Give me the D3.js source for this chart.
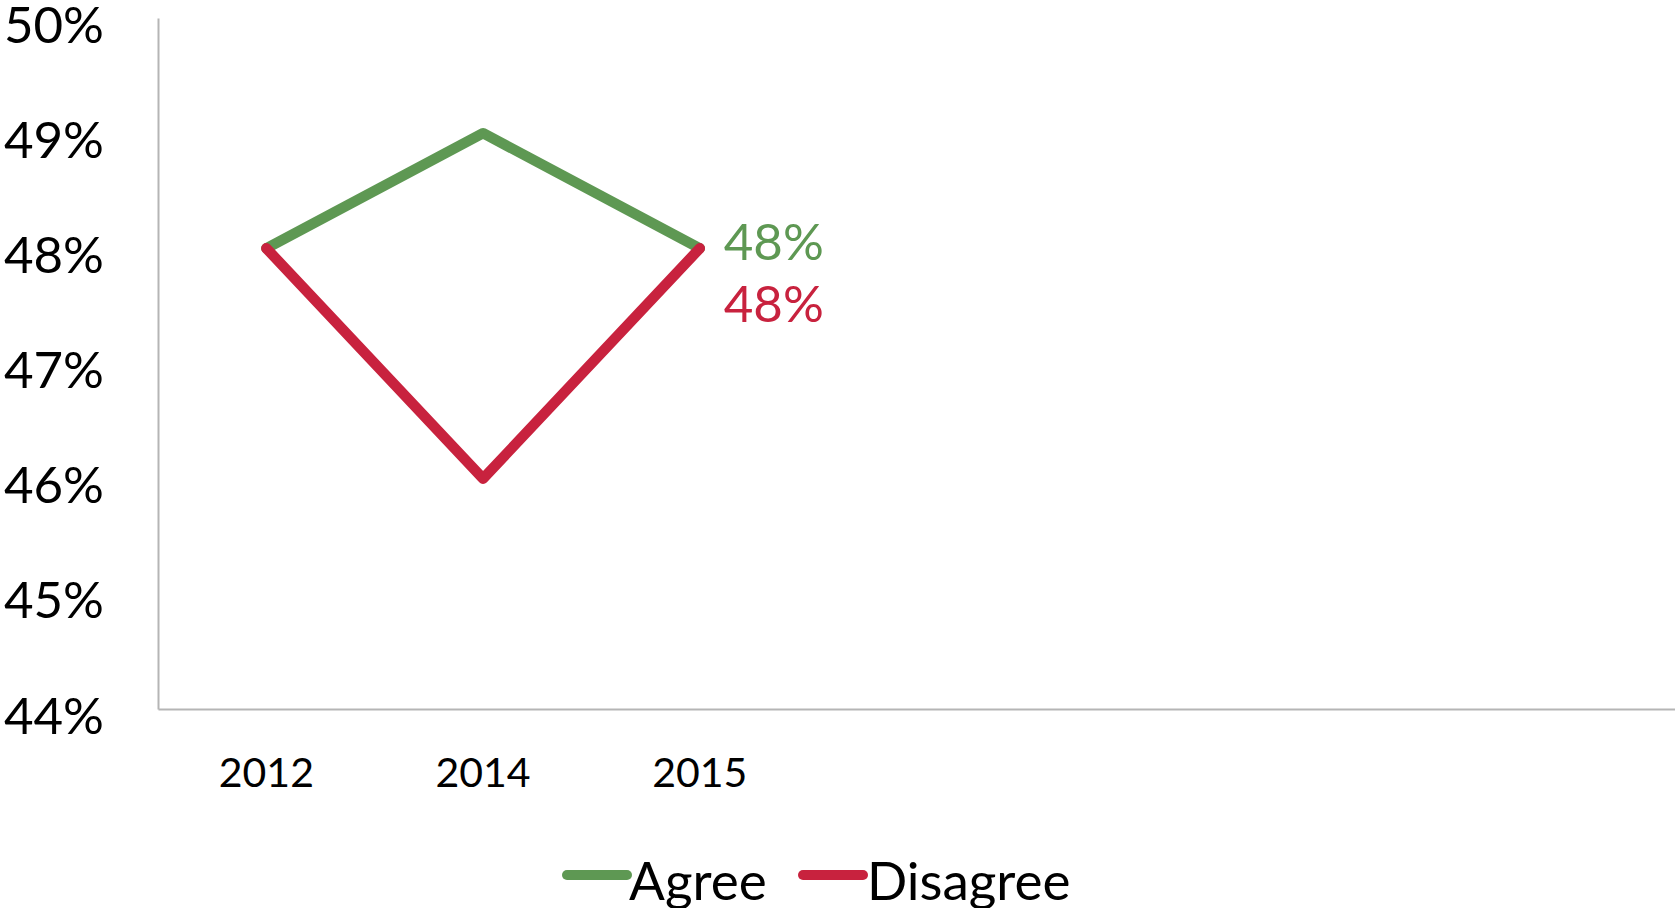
<!DOCTYPE html>
<html>
<head>
<meta charset="utf-8">
<script src="https://cdn.jsdelivr.net/npm/d3@7"></script>
<style>
  body { margin: 0; background: #fff; }
  svg { display: block; font-family: Lato, "Open Sans", sans-serif; }
</style>
</head>
<body>
<svg id="chart" width="1675" height="908"></svg>
<script>
// categories (excel leaves 4 empty slots after 2015)
const categories = ["2012", "2014", "2015", "", "", "", ""];
const agree = [48, 49, 48];
const disagree = [48, 46, 48];
const yTicks = [44, 45, 46, 47, 48, 49, 50];
const seriesNames = ["Agree", "Disagree"];
const seriesColors = ["#5e9853", "#c8223e"];

const svg = d3.select("#chart");
const plotLeft = 158, plotRight = 1675, plotTop = 18, plotBottom = 709;

const x = d3.scaleBand().domain(d3.range(categories.length)).range([plotLeft, plotRight]);
const y = d3.scaleLinear().domain([44, 50]).range([plotBottom, plotTop]);
const cx = i => x(i) + x.bandwidth() / 2;

// axes
const yAxis = svg.append("g").attr("transform", `translate(${plotLeft},0)`)
    .call(d3.axisLeft(y).tickValues(yTicks).tickSize(0).tickPadding(54).tickFormat(d => d + "%"));
yAxis.select(".domain").attr("stroke", "#b5b5b5").attr("stroke-width", 2);
yAxis.selectAll("text").attr("font-size", 51).attr("fill", "#000").attr("dy", "24px")
    .attr("font-family", "Lato, sans-serif");

const xAxis = svg.append("g").attr("transform", `translate(0,${plotBottom})`)
    .call(d3.axisBottom(x).tickSize(0).tickPadding(0).tickFormat(i => categories[i]));
xAxis.select(".domain").attr("stroke", "#b5b5b5").attr("stroke-width", 2);
xAxis.selectAll("text").attr("font-size", 41).attr("fill", "#000").attr("dy", "78px")
    .attr("font-family", "Lato, sans-serif");

// lines
const line = d3.line().x((d, i) => cx(i)).y(d => y(d));
[agree, disagree].forEach((s, k) => {
    svg.append("path").datum(s)
        .attr("d", line)
        .attr("fill", "none")
        .attr("stroke", seriesColors[k])
        .attr("stroke-width", 10.5)
        .attr("stroke-linejoin", "round")
        .attr("stroke-linecap", "round");
});

// end labels
const last = agree.length - 1;
svg.append("text").attr("x", cx(last) + 24).attr("y", y(agree[last]) + 12)
    .attr("font-size", 51).attr("fill", seriesColors[0]).text(agree[last] + "%");
svg.append("text").attr("x", cx(last) + 24).attr("y", y(disagree[last]) + 74)
    .attr("font-size", 51).attr("fill", seriesColors[1]).text(disagree[last] + "%");

// legend
const legendX = [567, 803];
seriesNames.forEach((name, k) => {
    const g = svg.append("g").attr("transform", `translate(${legendX[k]},875)`);
    g.append("line").attr("x1", 0).attr("x2", 60).attr("y1", 0).attr("y2", 0)
        .attr("stroke", seriesColors[k]).attr("stroke-width", 10).attr("stroke-linecap", "round");
    g.append("text").attr("x", k === 0 ? 62 : 64).attr("y", 25)
        .attr("font-size", 53).attr("fill", "#000").text(name);
});
</script>
</body>
</html>
